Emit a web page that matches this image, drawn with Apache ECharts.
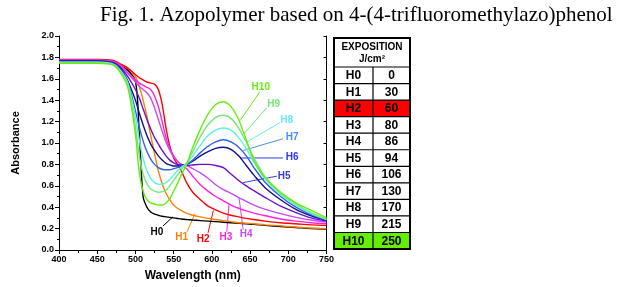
<!DOCTYPE html>
<html>
<head>
<meta charset="utf-8">
<script src="https://cdn.jsdelivr.net/npm/echarts@6/dist/echarts.min.js"></script>
<style>
  html, body { margin: 0; background: #fff; }
  #chart { width: 619px; height: 287px; }
</style>
</head>
<body>
<div id="chart"></div>
<script>
// wavelengths (nm) shared by every spectrum
var wavelengths = [400, 450, 470, 480, 490, 500, 505, 510, 515, 520, 525, 530, 535, 540, 545, 550, 555, 560, 567, 575, 585, 595, 605, 615, 625, 635, 645, 655, 670, 690, 710, 730, 750];

// absorbance of each exposition step
var H0  = [1.77, 1.77, 1.76, 1.73, 1.68, 1.58, 1.10, 0.50, 0.40, 0.355, 0.335, 0.325, 0.315, 0.31, 0.305, 0.30, 0.295, 0.29, 0.285, 0.28, 0.275, 0.27, 0.265, 0.26, 0.255, 0.25, 0.245, 0.24, 0.23, 0.22, 0.21, 0.20, 0.195];
var H1  = [1.775, 1.775, 1.765, 1.73, 1.70, 1.62, 1.53, 1.40, 1.25, 1.07, 0.90, 0.74, 0.62, 0.53, 0.47, 0.42, 0.39, 0.37, 0.345, 0.325, 0.31, 0.295, 0.285, 0.275, 0.265, 0.255, 0.25, 0.245, 0.235, 0.225, 0.215, 0.205, 0.20];
var H2  = [1.78, 1.78, 1.775, 1.74, 1.70, 1.64, 1.61, 1.59, 1.57, 1.56, 1.55, 1.50, 1.36, 1.14, 0.97, 0.86, 0.80, 0.74, 0.63, 0.54, 0.47, 0.41, 0.375, 0.345, 0.325, 0.31, 0.295, 0.285, 0.27, 0.255, 0.245, 0.235, 0.23];
var H3  = [1.775, 1.775, 1.765, 1.73, 1.66, 1.59, 1.56, 1.54, 1.52, 1.50, 1.44, 1.34, 1.20, 1.05, 0.95, 0.88, 0.83, 0.80, 0.76, 0.69, 0.61, 0.55, 0.50, 0.46, 0.42, 0.39, 0.365, 0.345, 0.32, 0.29, 0.27, 0.255, 0.245];
var H4  = [1.775, 1.775, 1.76, 1.72, 1.65, 1.57, 1.53, 1.50, 1.47, 1.42, 1.33, 1.22, 1.11, 1.01, 0.93, 0.87, 0.83, 0.80, 0.79, 0.76, 0.72, 0.67, 0.61, 0.565, 0.53, 0.49, 0.455, 0.42, 0.38, 0.34, 0.305, 0.28, 0.26];
var H5  = [1.77, 1.77, 1.755, 1.71, 1.62, 1.50, 1.42, 1.32, 1.22, 1.13, 1.05, 0.99, 0.93, 0.88, 0.84, 0.815, 0.80, 0.795, 0.79, 0.795, 0.80, 0.80, 0.79, 0.77, 0.71, 0.65, 0.60, 0.555, 0.49, 0.41, 0.35, 0.30, 0.27];
var H6  = [1.765, 1.765, 1.75, 1.70, 1.58, 1.40, 1.28, 1.17, 1.07, 0.99, 0.93, 0.88, 0.84, 0.81, 0.795, 0.785, 0.785, 0.79, 0.80, 0.83, 0.88, 0.92, 0.95, 0.96, 0.94, 0.88, 0.79, 0.70, 0.58, 0.47, 0.38, 0.32, 0.275];
var H7  = [1.76, 1.76, 1.745, 1.69, 1.57, 1.30, 1.15, 1.02, 0.92, 0.85, 0.80, 0.77, 0.755, 0.75, 0.75, 0.76, 0.77, 0.785, 0.80, 0.84, 0.91, 0.97, 1.01, 1.03, 1.01, 0.96, 0.88, 0.77, 0.63, 0.50, 0.40, 0.33, 0.28];
var H8  = [1.755, 1.755, 1.74, 1.68, 1.56, 1.24, 1.03, 0.86, 0.74, 0.67, 0.63, 0.615, 0.615, 0.63, 0.66, 0.70, 0.74, 0.77, 0.81, 0.88, 0.98, 1.07, 1.12, 1.14, 1.12, 1.05, 0.95, 0.82, 0.66, 0.52, 0.42, 0.34, 0.285];
var H9  = [1.75, 1.75, 1.735, 1.67, 1.54, 1.15, 0.88, 0.71, 0.62, 0.57, 0.55, 0.54, 0.545, 0.56, 0.60, 0.65, 0.70, 0.75, 0.81, 0.92, 1.06, 1.17, 1.24, 1.26, 1.23, 1.14, 1.01, 0.86, 0.68, 0.53, 0.43, 0.35, 0.29];
var H10 = [1.745, 1.745, 1.73, 1.66, 1.52, 1.08, 0.72, 0.55, 0.47, 0.44, 0.43, 0.42, 0.42, 0.44, 0.48, 0.55, 0.62, 0.70, 0.80, 0.96, 1.13, 1.27, 1.36, 1.385, 1.34, 1.22, 1.03, 0.84, 0.67, 0.54, 0.44, 0.37, 0.30];

var names = ['H0', 'H1', 'H2', 'H3', 'H4', 'H5', 'H6', 'H7', 'H8', 'H9', 'H10'];
var spectra = [H0, H1, H2, H3, H4, H5, H6, H7, H8, H9, H10];
var lineColors = ['#000000', '#ff7f00', '#ff0000', '#ff22dd', '#c44cf2', '#6a10cc', '#12128f', '#3060f0', '#60f0e0', '#74e874', '#66ee11'];
var textColors = ['#000000', '#ff7f00', '#ff0000', '#ff22dd', '#c44cf2', '#3a3ae0', '#2a3af0', '#4a8cff', '#66eeee', '#74e874', '#66ee11'];

// table: exposition in J/cm2
var exposition = [0, 30, 60, 80, 86, 94, 106, 130, 170, 215, 250];

// label callouts (data units): text position, leader start, leader end
var callouts = [
  [528, 0.17, 536, 0.224, 549, 0.31],
  [560.5, 0.12, 567.5, 0.17, 578, 0.34],
  [588.5, 0.10, 595, 0.16, 602, 0.37],
  [618.5, 0.12, 619.5, 0.17, 622.5, 0.43],
  [645, 0.15, 641, 0.19, 635.5, 0.49],
  [694.5, 0.69, 685, 0.69, 641, 0.63],
  [705, 0.865, 693, 0.86, 637, 0.86],
  [705, 1.05, 693, 1.04, 641, 0.93],
  [698, 1.21, 689, 1.19, 646, 1.01],
  [681, 1.36, 672, 1.33, 641, 1.08],
  [664, 1.52, 663, 1.48, 637, 1.21]
];

var chart = echarts.init(document.getElementById('chart'));
var tickFont = { fontFamily: 'Liberation Sans', fontWeight: 'bold', fontSize: 9, color: '#000' };

var series = names.map(function (n, i) {
  return {
    name: n,
    type: 'line',
    smooth: 0.3,
    showSymbol: false,
    animation: false,
    lineStyle: { color: lineColors[i], width: 1.4 },
    data: wavelengths.map(function (w, k) { return [w, spectra[i][k]]; })
  };
});

chart.setOption({
  animation: false,
  title: {
    text: 'Fig. 1. Azopolymer based on 4-(4-trifluoromethylazo)phenol',
    left: 95, top: 0,
    textStyle: { fontFamily: 'Liberation Serif', fontWeight: 'normal', fontSize: 21, color: '#000' }
  },
  grid: { left: 59, right: 292.5, top: 36, bottom: 37 },
  xAxis: [{
    type: 'value', min: 400, max: 750, interval: 50,
    name: 'Wavelength (nm)', nameLocation: 'middle', nameGap: 20,
    nameTextStyle: { fontFamily: 'Liberation Sans', fontWeight: 'bold', fontSize: 12, color: '#000' },
    axisLine: { lineStyle: { color: '#000', width: 1 } },
    axisTick: { length: 4, lineStyle: { color: '#000' } },
    minorTick: { show: true, splitNumber: 2, length: 2, lineStyle: { color: '#000' } },
    axisLabel: Object.assign({ margin: 5 }, tickFont),
    splitLine: { show: false }
  }, {
    type: 'value', min: 400, max: 750, interval: 25, position: 'top',
    axisLine: { lineStyle: { color: '#000', width: 1 } },
    axisTick: { inside: true, length: 3, lineStyle: { color: '#000' } },
    axisLabel: { show: false },
    splitLine: { show: false }
  }],
  yAxis: [{
    type: 'value', min: 0, max: 2, interval: 0.2,
    name: 'Absorbance', nameLocation: 'middle', nameGap: 38, nameRotate: 90,
    nameTextStyle: { fontFamily: 'Liberation Sans', fontWeight: 'bold', fontSize: 11, color: '#000' },
    axisLine: { show: true, lineStyle: { color: '#000', width: 1 } },
    axisTick: { show: true, length: 4, lineStyle: { color: '#000' } },
    minorTick: { show: true, splitNumber: 2, length: 2, lineStyle: { color: '#000' } },
    axisLabel: Object.assign({ margin: 5, formatter: function (v) { return v.toFixed(1); } }, tickFont),
    splitLine: { show: false }
  }, {
    type: 'value', min: 0, max: 2, interval: 0.2, position: 'right',
    axisLine: { show: true, lineStyle: { color: '#000', width: 1 } },
    axisTick: { show: true, inside: true, length: 3, lineStyle: { color: '#000' } },
    axisLabel: { show: false },
    splitLine: { show: false }
  }],
  series: series
});

// callouts and the exposition table as graphic elements
var graphics = [];
callouts.forEach(function (c, i) {
  var t = chart.convertToPixel({ gridIndex: 0 }, [c[0], c[1]]);
  var a = chart.convertToPixel({ gridIndex: 0 }, [c[2], c[3]]);
  var b = chart.convertToPixel({ gridIndex: 0 }, [c[4], c[5]]);
  graphics.push({
    type: 'line', silent: true,
    shape: { x1: a[0], y1: a[1], x2: b[0], y2: b[1] },
    style: { stroke: textColors[i], lineWidth: 1 }
  });
  graphics.push({
    type: 'text', silent: true, x: t[0], y: t[1],
    style: {
      text: names[i], fill: textColors[i], align: 'center', verticalAlign: 'middle',
      font: 'bold 10px "Liberation Sans"'
    }
  });
});

var tblLeft = 334, tblRight = 410, tblMid = 373, tblTop = 38, headH = 29, rowH = 16.55;
var rowFills = { H2: '#ff0000', H10: '#66ee00' };
names.forEach(function (n, i) {
  var y = tblTop + headH + i * rowH;
  if (rowFills[n]) {
    graphics.push({ type: 'rect', silent: true, shape: { x: tblLeft, y: y, width: tblRight - tblLeft, height: rowH }, style: { fill: rowFills[n] } });
  }
  graphics.push({ type: 'line', silent: true, shape: { x1: tblLeft, y1: y, x2: tblRight, y2: y }, style: { stroke: '#000', lineWidth: 1.2 } });
  graphics.push({ type: 'text', silent: true, x: (tblLeft + tblMid) / 2, y: y + rowH / 2 + 0.5,
    style: { text: n, align: 'center', verticalAlign: 'middle', fill: '#000', font: 'bold 12px "Liberation Sans"' } });
  graphics.push({ type: 'text', silent: true, x: (tblMid + tblRight) / 2, y: y + rowH / 2 + 0.5,
    style: { text: String(exposition[i]), align: 'center', verticalAlign: 'middle', fill: '#000', font: 'bold 12px "Liberation Sans"' } });
});
graphics.push({ type: 'line', silent: true, shape: { x1: tblMid, y1: tblTop + headH, x2: tblMid, y2: tblTop + headH + names.length * rowH }, style: { stroke: '#000', lineWidth: 1.2 } });
graphics.push({ type: 'rect', silent: true, shape: { x: tblLeft, y: tblTop, width: tblRight - tblLeft, height: headH + names.length * rowH }, style: { fill: null, stroke: '#000', lineWidth: 2 } });
graphics.push({ type: 'text', silent: true, x: (tblLeft + tblRight) / 2, y: tblTop + 9,
  style: { text: 'EXPOSITION', align: 'center', verticalAlign: 'middle', fill: '#000', font: 'bold 10px "Liberation Sans"' } });
graphics.push({ type: 'text', silent: true, x: (tblLeft + tblRight) / 2, y: tblTop + 21,
  style: { text: 'J/cm\u00b2', align: 'center', verticalAlign: 'middle', fill: '#000', font: 'bold 10px "Liberation Sans"' } });

chart.setOption({ graphic: graphics });
</script>
</body>
</html>
